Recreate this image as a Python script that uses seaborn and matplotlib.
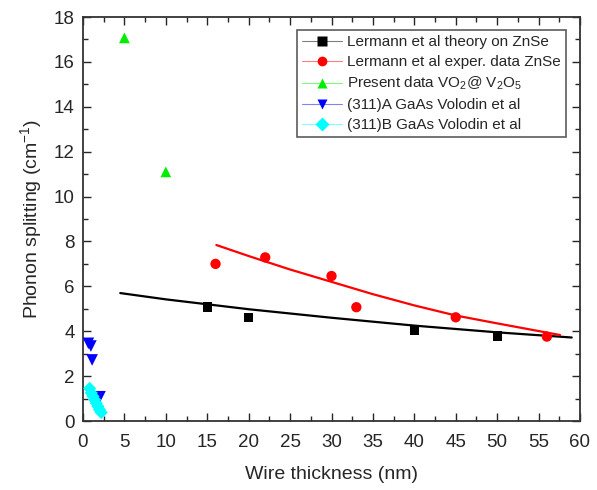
import numpy as np
import pandas as pd
import matplotlib
matplotlib.use('Agg')
import matplotlib.pyplot as plt
import seaborn as sns
from matplotlib.lines import Line2D
from matplotlib.ticker import MultipleLocator

# Lermann et al theory on ZnSe (points + fitted curve)
theory_x = [15, 20, 40, 50]
theory_y = [5.08, 4.62, 4.06, 3.79]
theory_fit_x = [4.5, 10, 15, 20, 30, 40, 50, 59]
theory_fit_y = [5.70, 5.42, 5.2, 4.98, 4.6, 4.25, 3.95, 3.72]

# Lermann et al experimental data ZnSe
exper_x = [16, 22, 30, 33, 45, 56]
exper_y = [7.0, 7.29, 6.46, 5.07, 4.62, 3.76]
exper_fit_x = [16.1, 20, 25, 30, 35, 40, 45, 50, 57.6]
exper_fit_y = [7.84, 7.35, 6.75, 6.2, 5.65, 5.15, 4.7, 4.35, 3.83]

# present data VO2@V2O5
present_x = [5, 10]
present_y = [17.07, 11.1]

# (311)A and (311)B GaAs, Volodin et al
gaas_a_x = [0.65, 0.95, 1.1, 2.05]
gaas_a_y = [3.46, 3.34, 2.72, 1.08]
gaas_b_x = [0.8, 1.0, 1.2, 1.4, 1.6, 1.8, 2.0, 2.2]
gaas_b_y = [1.45, 1.25, 1.1, 0.95, 0.8, 0.65, 0.5, 0.38]

labels = ['Lermann et al theory on ZnSe',
          'Lermann et al exper. data ZnSe',
          r'Present data VO$_2$@ V$_2$O$_5$',
          '(311)A GaAs Volodin et al',
          '(311)B GaAs Volodin et al']
colors = ['black', '#ff0000', '#00ee00', '#0000ff', '#00ffff']
markers = ['s', 'o', '^', 'v', 'D']
sizes = [45, 55, 60, 70, 45]

sns.set_style('ticks')
plt.rcParams['font.family'] = ['Liberation Sans', 'DejaVu Sans']
plt.rcParams['mathtext.default'] = 'regular'

fig = plt.figure(figsize=(5.97, 4.90), dpi=100)
ax = fig.add_axes([83/597, 1 - 421/490, (580-83)/597, (421-17)/490])

# fitted curves
sns.lineplot(x=theory_fit_x, y=theory_fit_y, color='black', lw=1.6, sort=False, estimator=None, ax=ax)
sns.lineplot(x=exper_fit_x, y=exper_fit_y, color='#ff0000', lw=1.6, sort=False, estimator=None, ax=ax)

series = [(theory_x, theory_y), (exper_x, exper_y), (present_x, present_y),
          (gaas_a_x, gaas_a_y), (gaas_b_x, gaas_b_y)]
for (xs, ys), c, m, s in zip(series, colors, markers, sizes):
    sns.scatterplot(x=xs, y=ys, color=c, marker=m, s=s, edgecolor='none', ax=ax, zorder=3)

ax.set_xlim(0, 60)
ax.set_ylim(0, 18)
ax.xaxis.set_major_locator(MultipleLocator(5))
ax.xaxis.set_minor_locator(MultipleLocator(2.5))
ax.yaxis.set_major_locator(MultipleLocator(2))
ax.yaxis.set_minor_locator(MultipleLocator(1))
ax.tick_params(which='both', direction='in', top=True, right=True, labelsize=13.5)
ax.tick_params(axis='x', pad=9)
ax.tick_params(axis='y', pad=6)
ax.tick_params(which='major', length=6, width=1)
ax.tick_params(which='minor', length=3.5, width=1)
for sp in ax.spines.values():
    sp.set_linewidth(1.3)
    sp.set_color('#333333')

ax.set_xlabel('Wire thickness (nm)', fontsize=14, labelpad=11)
ax.set_ylabel('Phonon splitting (cm$^{-1}$)', fontsize=14, labelpad=7)

handles = [Line2D([0], [0], color=c, lw=0.8, marker=m, markersize=7, markeredgecolor='none')
           for c, m in zip(colors, markers)]
for h, c in zip(handles, colors):
    h.set_markerfacecolor(c)
    h.set_color(matplotlib.colors.to_rgba(c, 0.5))
leg = ax.legend(handles, labels, loc='upper left', bbox_to_anchor=(297/597, 1 - 30/490),
                bbox_transform=fig.transFigure, borderaxespad=0, fontsize=11,
                frameon=True, fancybox=False, edgecolor='#333333', handlelength=2.6,
                handletextpad=0.3, labelspacing=0.38, borderpad=0.35)
leg.get_frame().set_linewidth(1.2)

fig.savefig('out.png', dpi=100)
